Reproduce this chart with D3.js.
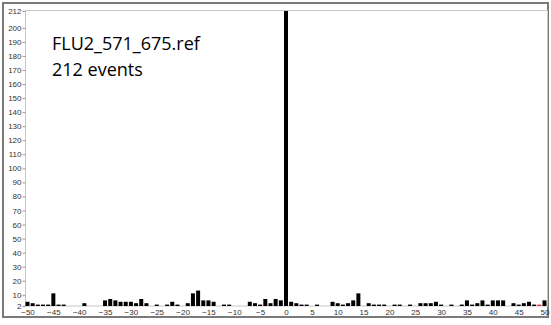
<!DOCTYPE html>
<html>
<head>
<meta charset="utf-8">
<script src="https://cdn.jsdelivr.net/npm/d3@7"></script>
<style>
  body { margin: 0; background: #fff; }
</style>
</head>
<body>
<svg id="chart"></svg>
<script>
// offsets -50..50 and counts
const offsets = d3.range(-50, 51);
const counts = [
  5, 4, 3, 3, 3, 11, 3, 3, 0, 0,
  0, 4, 0, 0, 0, 6, 7, 6, 5, 5,
  5, 4, 7, 4, 0, 3, 0, 3, 5, 3,
  0, 4, 11, 13, 6, 6, 5, 0, 3, 3,
  0, 0, 0, 5, 4, 3, 7, 4, 7, 6,
  212,
  5, 4, 3, 3, 0, 3, 0, 0, 5, 4,
  3, 4, 6, 11, 0, 4, 3, 3, 3, 0,
  3, 3, 0, 3, 0, 4, 4, 4, 5, 3,
  0, 3, 0, 3, 6, 3, 4, 6, 3, 6,
  6, 6, 0, 4, 3, 4, 5, 3, 3, 6
];
const highlighted = [49];
const yTicks = [2, 10, 20, 30, 40, 50, 60, 70, 80, 90, 100, 110, 120, 130, 140, 150, 160, 170, 180, 190, 200, 212];
const xTicks = d3.range(-50, 51, 5);
const titleLines = ['FLU2_571_675.ref', '212 events'];

const W = 551, H = 325;
const plot = { left: 25.5, right: 547.5, top: 10.5, bottom: 306 };

const svg = d3.select('#chart').attr('width', W).attr('height', H);

// outer frame
svg.append('rect')
  .attr('x', 3).attr('y', 3).attr('width', 545).attr('height', 314)
  .attr('fill', '#fff').attr('stroke', '#7a7a7a').attr('stroke-width', 2);

const x = d3.scaleLinear().domain([-50, 50]).range([27.5, 544.5]);
const y = d3.scaleLinear().domain([2, 212]).range([plot.bottom, 11]);

// plot box
svg.append('rect')
  .attr('x', plot.left).attr('y', plot.top)
  .attr('width', plot.right - plot.left).attr('height', plot.bottom - plot.top)
  .attr('fill', 'none').attr('stroke', '#c8c8c8').attr('stroke-width', 1);

const data = offsets.map((o, i) => ({ offset: o, count: counts[i] }))
  .filter(d => d.count > 0);

const barW = 4;
svg.append('g').selectAll('rect')
  .data(data)
  .join('rect')
  .attr('x', d => x(d.offset) - barW / 2)
  .attr('y', d => y(d.count))
  .attr('width', barW)
  .attr('height', d => y(2) - y(d.count))
  .attr('fill', d => highlighted.includes(d.offset) ? '#e03030' : '#000');

// y axis
const yAxis = svg.append('g')
  .attr('transform', `translate(${plot.left},0)`)
  .call(d3.axisLeft(y).tickValues(yTicks).tickSize(3).tickPadding(1));
yAxis.select('.domain').remove();
yAxis.selectAll('line').attr('stroke', '#999');
yAxis.selectAll('text')
  .attr('font-family', 'Liberation Sans, Arial, sans-serif')
  .attr('font-size', 8).attr('fill', '#333');

// x axis
const xAxis = svg.append('g')
  .attr('transform', `translate(0,${plot.bottom})`)
  .call(d3.axisBottom(x).tickValues(xTicks).tickSize(0).tickPadding(3));
xAxis.select('.domain').remove();
xAxis.selectAll('text')
  .attr('font-family', 'Liberation Sans, Arial, sans-serif')
  .attr('font-size', 8).attr('fill', '#333');

// title text
svg.append('g').selectAll('text')
  .data(titleLines)
  .join('text')
  .attr('x', 52)
  .attr('y', (d, i) => 50 + i * 26)
  .attr('font-family', 'Open Sans, sans-serif')
  .attr('font-size', 18)
  .attr('fill', '#000')
  .text(d => d);
</script>
</body>
</html>
